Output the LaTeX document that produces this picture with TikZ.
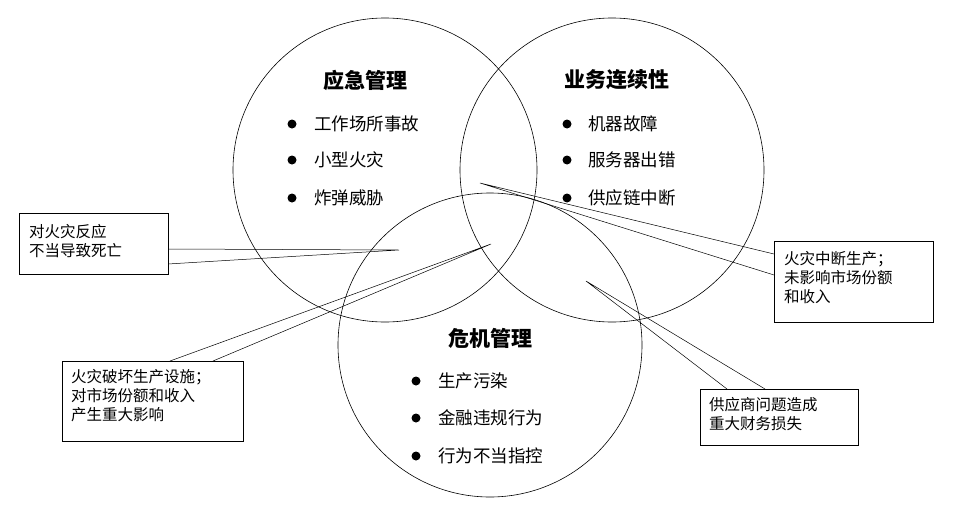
\documentclass[tikz,border=0pt]{standalone}
\usepackage{fontspec}
\newfontfamily\cjk{Noto Sans CJK SC}
\begin{document}
\begin{tikzpicture}[x=1pt,y=-1pt,
  circ/.style={draw,line width=0.6pt,circle,minimum size=304pt,inner sep=0},
  ttl/.style={font=\cjk\bfseries\fontsize{21}{24}\selectfont},
  itm/.style={font=\cjk\fontsize{17.5}{20}\selectfont,anchor=west,inner sep=0},
  dot/.style={circle,fill,inner sep=0,minimum size=9pt},
  ctxt/.style={font=\cjk\fontsize{15.5}{19}\selectfont,align=left,anchor=north west,inner sep=0},
  wedge/.style={line width=0.5pt}]
\useasboundingbox (0,0) rectangle (958,514);
\node[circ] (A) at (385,170) {};
\node[circ] (B) at (612,170) {};
\node[circ] (C) at (490,345) {};
\node[ttl] (ta) at (365,80) {应急管理};
\node[ttl] (tb) at (617,80) {业务连续性};
\node[ttl] (tc) at (490,338) {危机管理};
\foreach \t/\y [count=\i] in {工作场所事故/124,小型火灾/160,炸弹威胁/198}{
  \node[dot] (ad\i) at (292,\y) {}; \node[itm] (ai\i) at (314,\y) {\t};}
\foreach \t/\y [count=\i] in {机器故障/124,服务器出错/160,供应链中断/198}{
  \node[dot] (bd\i) at (567,\y) {}; \node[itm] (bi\i) at (588,\y) {\t};}
\foreach \t/\y [count=\i] in {生产污染/381,金融违规行为/418,行为不当指控/456}{
  \node[dot] (cd\i) at (416,\y) {}; \node[itm] (ci\i) at (438,\y) {\t};}
\coordinate (t1) at (399,250); \coordinate (b1a) at (168,249); \coordinate (b1b) at (168,264);
\coordinate (t2) at (491,244); \coordinate (b2a) at (170,361); \coordinate (b2b) at (213,361);
\coordinate (t3) at (480,183); \coordinate (b3a) at (774,254); \coordinate (b3b) at (774,275);
\coordinate (t4) at (586,281); \coordinate (b4a) at (727,389); \coordinate (b4b) at (765,389);
\draw[wedge] (b1a) -- (t1) -- (b1b);
\draw[wedge] (b2a) -- (t2) -- (b2b);
\draw[wedge] (b3a) -- (t3) -- (b3b);
\draw[wedge] (b4a) -- (t4) -- (b4b);
\draw[line width=0.6pt,fill=white] (19,213) rectangle (168,274);
\draw[line width=0.6pt,fill=white] (62,361) rectangle (243,441);
\draw[line width=0.6pt,fill=white] (774,241) rectangle (933,322);
\draw[line width=0.6pt,fill=white] (700,389) rectangle (858,445);
\node[ctxt] (c1) at (29,224) {对火灾反应\\不当导致死亡};
\node[ctxt] (c2) at (71,369) {火灾破坏生产设施；\\对市场份额和收入\\产生重大影响};
\node[ctxt] (c3) at (784,251) {火灾中断生产；\\未影响市场份额\\和收入};
\node[ctxt] (c4) at (709,397) {供应商问题造成\\重大财务损失};
\end{tikzpicture}
\end{document}
